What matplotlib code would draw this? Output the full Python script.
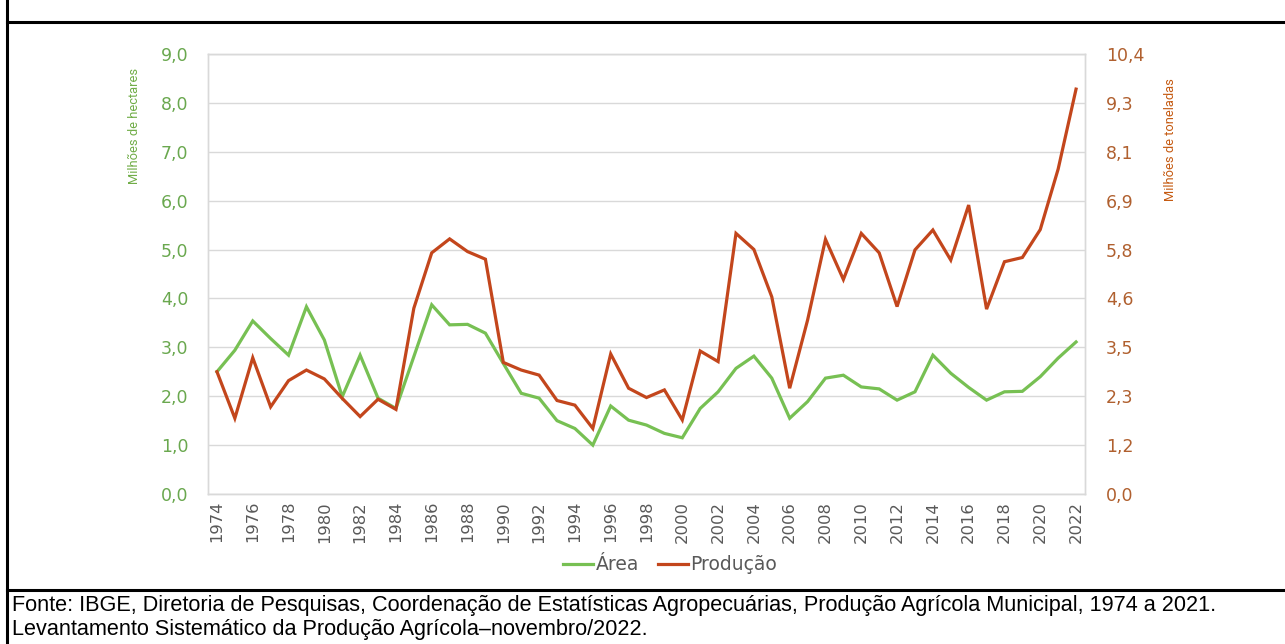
import matplotlib
matplotlib.use('Agg')
import matplotlib.pyplot as plt
from matplotlib.lines import Line2D
from matplotlib.ticker import FuncFormatter
import numpy as np

# dados (trigo, 1974-2022)
anos = list(range(1974, 2023))
area = [2.50, 2.94, 3.54, 3.18, 2.84, 3.83, 3.15, 1.99, 2.84, 1.96,
        1.75, 2.81, 3.87, 3.46, 3.47, 3.29, 2.67, 2.06, 1.96, 1.50,
        1.34, 1.00, 1.80, 1.51, 1.41, 1.24, 1.15, 1.75, 2.09, 2.57,
        2.82, 2.37, 1.55, 1.89, 2.37, 2.43, 2.19, 2.15, 1.92, 2.09,
        2.84, 2.47, 2.18, 1.92, 2.09, 2.10, 2.40, 2.78, 3.11]
producao = [2.89, 1.79, 3.22, 2.06, 2.68, 2.93, 2.72, 2.26, 1.83, 2.24,
            2.00, 4.39, 5.70, 6.03, 5.73, 5.55, 3.11, 2.93, 2.81, 2.21,
            2.10, 1.55, 3.31, 2.50, 2.28, 2.46, 1.75, 3.38, 3.13, 6.16,
            5.78, 4.66, 2.50, 4.11, 6.02, 5.07, 6.16, 5.70, 4.43, 5.77,
            6.24, 5.53, 6.83, 4.37, 5.49, 5.59, 6.25, 7.68, 9.57]
ticks_esq = [0, 1, 2, 3, 4, 5, 6, 7, 8, 9]
ticks_dir = [0.0, 1.2, 2.3, 3.5, 4.6, 5.8, 6.9, 8.1, 9.3, 10.4]

verde = '#77C053'
vermelho = '#C3461C'
cinza = '#595959'

W, H = 1285, 644
fig = plt.figure(figsize=(W / 100, H / 100), dpi=100)

ax = fig.add_axes([208 / W, 1 - 494 / H, (1085 - 208) / W, (494 - 54) / H])
ax2 = ax.twinx()

x = np.arange(len(anos))
ax.plot(x, area, color=verde, lw=2.3, solid_joinstyle='miter')
ax2.plot(x, producao, color=vermelho, lw=2.3, solid_joinstyle='miter')

ax.set_xlim(-0.5, len(anos) - 0.5)
ax.set_ylim(0, 9)
ax2.set_ylim(0, 10.4)
ax.set_yticks(ticks_esq)
ax2.set_yticks(np.linspace(0, 10.4, len(ticks_dir)))
ax2.set_yticklabels([f'{v:.1f}'.replace('.', ',') for v in ticks_dir])
ax.yaxis.set_major_formatter(FuncFormatter(lambda v, p: f'{v:.1f}'.replace('.', ',')))

ax.set_xticks(x[::2])
ax.set_xticklabels([str(a) for a in anos[::2]], rotation=90)

ax.grid(axis='y', color='#D9D9D9', lw=1)
ax.set_axisbelow(True)
for a in (ax, ax2):
    for s in a.spines.values():
        s.set_color('#D9D9D9')
        s.set_linewidth(1)

ax.tick_params(axis='y', length=0, pad=14, labelsize=12.5, labelcolor='#6AA84F')
ax2.tick_params(axis='y', length=0, pad=15, labelsize=12.5, labelcolor='#B0602F')
ax.tick_params(axis='x', length=0, pad=5, labelsize=11.8, labelcolor=cinza)

fig.text(135 / W, 1 - 68 / H, 'Milhões de hectares', rotation=90, ha='center', va='top',
         fontsize=9.3, family='Roboto', color='#70AD47')
fig.text(1170 / W, 1 - 78 / H, 'Milhões de toneladas', rotation=90, ha='center', va='top',
         fontsize=9.3, family='Roboto', color='#C55A11')

handles = [Line2D([], [], color=verde, lw=2.3), Line2D([], [], color=vermelho, lw=2.3)]
fig.legend(handles, ['Área', 'Produção'], loc='center', bbox_to_anchor=(670 / W, 1 - 565 / H),
           ncol=2, frameon=False, handlelength=1.6, handletextpad=0.15, columnspacing=1.0,
           fontsize=13.5, labelcolor=cinza)

# moldura
fig.add_artist(Line2D([7 / W, 1], [1 - 22 / H] * 2, transform=fig.transFigure, color='black', lw=2.2))
fig.add_artist(Line2D([7 / W, 1], [1 - 590 / H] * 2, transform=fig.transFigure, color='black', lw=2.2))
fig.add_artist(Line2D([7 / W] * 2, [0, 1], transform=fig.transFigure, color='black', lw=2.2))

fig.text(12 / W, 1 - 605 / H,
         'Fonte: IBGE, Diretoria de Pesquisas, Coordenação de Estatísticas Agropecuárias, '
         'Produção Agrícola Municipal, 1974 a 2021.',
         ha='left', va='center', fontsize=15.6, family='Liberation Sans', color='black')
fig.text(12 / W, 1 - 629 / H,
         'Levantamento Sistemático da Produção Agrícola–novembro/2022.',
         ha='left', va='center', fontsize=15.6, family='Liberation Sans', color='black')

fig.savefig('out.png', dpi=100)
